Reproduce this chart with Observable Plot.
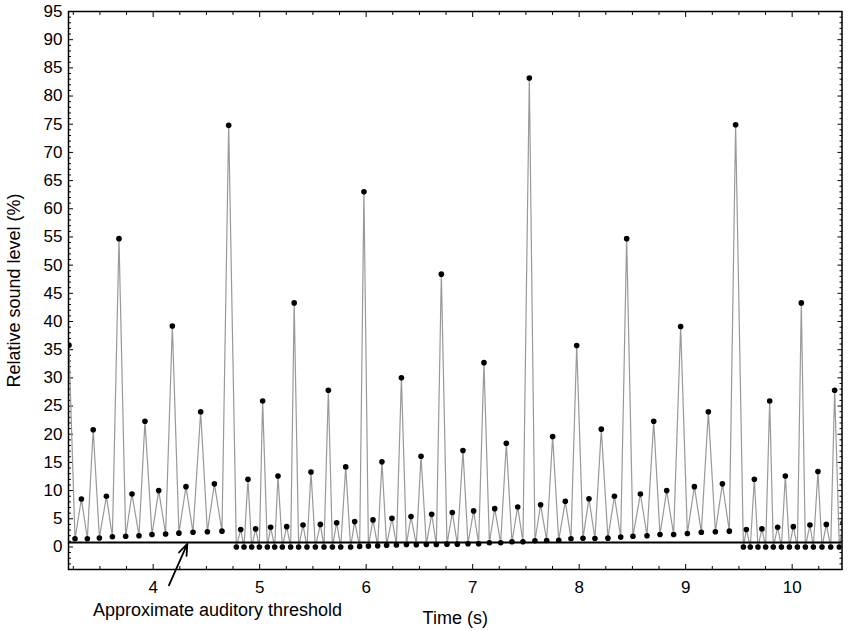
<!DOCTYPE html>
<html>
<head>
<meta charset="utf-8">
<script src="https://cdn.jsdelivr.net/npm/d3@7"></script>
<script src="https://cdn.jsdelivr.net/npm/@observablehq/plot@0.6"></script>
<style>
  html, body { margin: 0; padding: 0; background: #fff; }
  #chart svg { display: block; }
</style>
</head>
<body>
<div id="chart"></div>
<script>
// Time (s) of each trough / peak
const time = [3.209, 3.266, 3.326, 3.382, 3.437, 3.495, 3.561, 3.617, 3.679, 3.742, 3.801, 3.867, 3.923, 3.989, 4.052, 4.117, 4.180, 4.242, 4.308, 4.374, 4.446, 4.509, 4.575, 4.646, 4.709,
  4.781, 4.822, 4.853, 4.890, 4.925, 4.962, 4.997, 5.028, 5.072, 5.103, 5.141, 5.172, 5.213, 5.254, 5.291, 5.324, 5.366, 5.407, 5.444, 5.482, 5.523, 5.570, 5.604, 5.645, 5.683, 5.723, 5.761, 5.808, 5.854, 5.892, 5.939, 5.979, 6.021, 6.064, 6.108, 6.148, 6.192, 6.242, 6.284, 6.331, 6.378, 6.421, 6.471, 6.515, 6.565, 6.615, 6.659, 6.706, 6.759, 6.809, 6.856, 6.909, 6.956, 7.009, 7.056, 7.106, 7.157, 7.207, 7.263, 7.316, 7.369, 7.423, 7.472, 7.532, 7.585, 7.638, 7.695, 7.751, 7.808, 7.870, 7.923, 7.977, 8.036, 8.092, 8.148, 8.208, 8.270, 8.331, 8.390, 8.446, 8.505, 8.575, 8.637, 8.700, 8.759, 8.822, 8.887, 8.953, 9.016, 9.082, 9.147, 9.213, 9.279, 9.345, 9.410, 9.469,
  9.542, 9.570, 9.607, 9.645, 9.679, 9.716, 9.751, 9.789, 9.823, 9.864, 9.899, 9.936, 9.974, 10.011, 10.049, 10.086, 10.124, 10.167, 10.199, 10.242, 10.280, 10.321, 10.362, 10.399, 10.443, 10.477];

// Relative sound level (%) at each of those times
const level = [35.8, 1.45, 8.5, 1.45, 20.8, 1.6, 9.0, 1.8, 54.7, 1.9, 9.4, 2.0, 22.3, 2.2, 10.0, 2.3, 39.2, 2.45, 10.7, 2.6, 24.0, 2.7, 11.2, 2.8, 74.8,
  0, 3.1, 0, 12.0, 0, 3.2, 0, 25.9, 0, 3.5, 0, 12.6, 0, 3.6, 0, 43.3, 0, 3.9, 0, 13.3, 0, 4.0, 0, 27.8, 0, 4.3, 0, 14.2, 0, 4.5, 0.1, 63.0, 0.15, 4.8, 0.2, 15.1, 0.3, 5.1, 0.35, 30.0, 0.44, 5.4, 0.4, 16.1, 0.44, 5.8, 0.44, 48.4, 0.5, 6.1, 0.5, 17.1, 0.57, 6.4, 0.57, 32.7, 0.75, 6.8, 0.75, 18.4, 0.92, 7.1, 0.92, 83.2, 1.1, 7.5, 1.15, 19.6, 1.2, 8.1, 1.45, 35.75, 1.55, 8.55, 1.5, 20.9, 1.56, 9.0, 1.75, 54.7, 1.9, 9.4, 2.0, 22.3, 2.2, 10.0, 2.2, 39.1, 2.4, 10.7, 2.6, 24.0, 2.7, 11.2, 2.8, 74.9,
  0, 3.1, 0, 12.0, 0, 3.2, 0, 25.9, 0, 3.5, 0, 12.6, 0, 3.6, 0, 43.3, 0, 3.9, 0, 13.4, 0, 4.0, 0, 27.8, 0, 4.3];

const threshold = 0.8;

const xMajorTicks = [4, 5, 6, 7, 8, 9, 10];
const xMinorTicks = [3.25, 3.5, 3.75, 4.25, 4.5, 4.75, 5.25, 5.5, 5.75, 6.25, 6.5, 6.75, 7.25, 7.5, 7.75, 8.25, 8.5, 8.75, 9.25, 9.5, 9.75, 10.25];
const yMajorTicks = [0, 5, 10, 15, 20, 25, 30, 35, 40, 45, 50, 55, 60, 65, 70, 75, 80, 85, 90, 95];
const yMinorTicks = [-4, -3, -2, -1, 1, 2, 3, 4, 6, 7, 8, 9, 11, 12, 13, 14, 16, 17, 18, 19, 21, 22, 23, 24, 26, 27, 28, 29, 31, 32, 33, 34, 36, 37, 38, 39, 41, 42, 43, 44, 46, 47, 48, 49, 51, 52, 53, 54, 56, 57, 58, 59, 61, 62, 63, 64, 66, 67, 68, 69, 71, 72, 73, 74, 76, 77, 78, 79, 81, 82, 83, 84, 86, 87, 88, 89, 91, 92, 93, 94];

const xTitle = "Time (s)";
const yTitle = "Relative sound level (%)";
const noteText = ["Approximate auditory threshold"];
const noteTextPos = [3.435, -11.2];
const noteArrow = [{x1: 4.148, y1: -6.8, x2: 4.321, y2: 0.55}];

const data = time.map((t, i) => ({t, v: level[i]}));
const blank = () => "";
const font = "'Liberation Sans', Arial, sans-serif";

const chart = Plot.plot({
  width: 850,
  height: 631,
  marginLeft: 68,
  marginRight: 8.5,
  marginTop: 11,
  marginBottom: 62,
  style: {fontFamily: font, fontSize: "17px", color: "black", background: "white"},
  x: {domain: [3.205, 10.468], label: null},
  y: {domain: [-4, 95], label: null},
  marks: [
    // tick labels
    Plot.axisX({ticks: xMajorTicks, anchor: "bottom", tickSize: 0, tickPadding: 11, fontSize: 17, label: null}),
    Plot.axisY({ticks: yMajorTicks, anchor: "left", tickSize: 0, tickPadding: 6, fontSize: 17, label: null}),
    // inward ticks on all four sides
    Plot.axisX({ticks: xMajorTicks, anchor: "bottom", tickSize: -5, tickFormat: blank, label: null}),
    Plot.axisX({ticks: xMinorTicks, anchor: "bottom", tickSize: -3, tickFormat: blank, label: null}),
    Plot.axisX({ticks: xMajorTicks, anchor: "top", tickSize: -5, tickFormat: blank, label: null}),
    Plot.axisX({ticks: xMinorTicks, anchor: "top", tickSize: -3, tickFormat: blank, label: null}),
    Plot.axisY({ticks: yMajorTicks, anchor: "left", tickSize: -5, tickFormat: blank, label: null}),
    Plot.axisY({ticks: yMinorTicks, anchor: "left", tickSize: -3, tickFormat: blank, label: null}),
    Plot.axisY({ticks: yMajorTicks, anchor: "right", tickSize: -5, tickFormat: blank, label: null}),
    Plot.axisY({ticks: yMinorTicks, anchor: "right", tickSize: -3, tickFormat: blank, label: null}),
    // signal
    Plot.line(data, {x: "t", y: "v", stroke: "#999999", strokeWidth: 1.2, clip: true}),
    Plot.ruleY([threshold], {stroke: "black", strokeWidth: 2}),
    Plot.dot(data, {x: "t", y: "v", r: 2.8, fill: "black", stroke: "none", clip: true}),
    Plot.frame({stroke: "black", strokeWidth: 1.5}),
    // titles
    Plot.text([xTitle], {frameAnchor: "bottom", dy: 49, fontSize: 18, lineAnchor: "middle", fill: "black"}),
    Plot.text([yTitle], {frameAnchor: "left", dx: -54, rotate: -90, fontSize: 18, lineAnchor: "middle", textAnchor: "middle", fill: "black"}),
    // annotation
    Plot.text(noteText, {x: noteTextPos[0], y: noteTextPos[1], textAnchor: "start", lineAnchor: "middle", fontSize: 18, fill: "black"}),
    Plot.arrow(noteArrow, {x1: "x1", y1: "y1", x2: "x2", y2: "y2", stroke: "black", strokeWidth: 1.8, headLength: 10, headAngle: 40})
  ]
});
document.getElementById("chart").appendChild(chart);
</script>
</body>
</html>
